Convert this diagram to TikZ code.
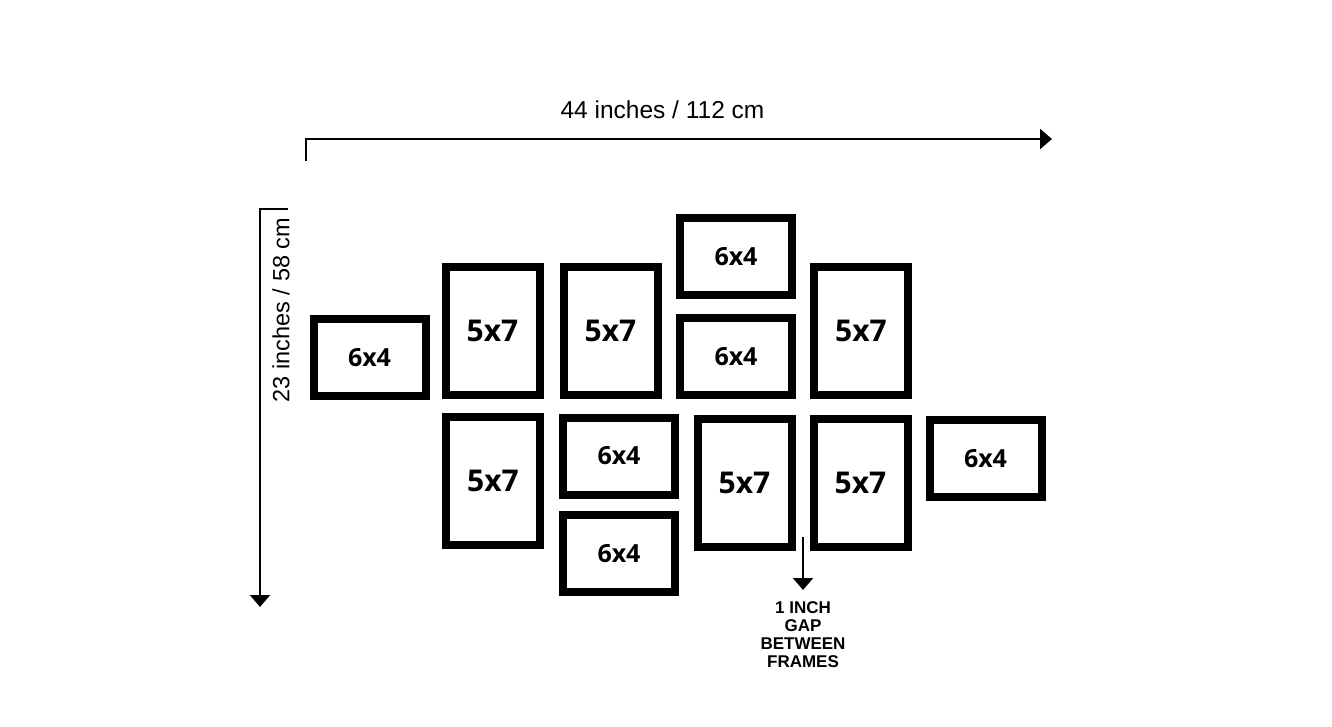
\documentclass[tikz,border=0pt]{standalone}
\usepackage{fontspec}
\setmainfont{Liberation Sans}
\newfontfamily\lblfont{Open Sans}
\usetikzlibrary{arrows.meta}
\begin{document}
\begin{tikzpicture}[x=1pt,y=-1pt,
  frame/.style={draw=black,line width=8pt,fill=white,inner sep=0pt,outer sep=0pt,font=\lblfont\bfseries},
  tall/.style={frame,minimum width=94pt,minimum height=128pt,font=\lblfont\bfseries\fontsize{30}{32}\selectfont},
  wide/.style={frame,minimum width=112pt,minimum height=77pt,font=\lblfont\bfseries\fontsize{25}{27}\selectfont},
  dim/.style={line width=2pt,-{Triangle[width=20pt,length=12pt]}},
  dimtext/.style={font=\fontsize{24.5}{27}\selectfont,inner sep=0pt}]
\useasboundingbox[fill=white] (0,0) rectangle (1332,726);
% frames
\node[wide] (a) at (369.5,357.5) {6x4};
\node[tall] (b) at (492.5,331) {5x7};
\node[tall] (c) at (610.5,331) {5x7};
\node[wide] (d) at (736,256.5) {6x4};
\node[wide] (e) at (736,356.5) {6x4};
\node[tall] (f) at (861,331) {5x7};
\node[tall] (g) at (493,481) {5x7};
\node[wide] (h) at (619,456) {6x4};
\node[wide] (i) at (619,553.5) {6x4};
\node[tall] (j) at (744.5,482.5) {5x7};
\node[tall] (k) at (860.5,483) {5x7};
\node[wide] (l) at (985.5,458.5) {6x4};
% top dimension
\coordinate (tlo) at (306,161);
\coordinate (tc) at (306,139);
\coordinate (tr) at (1052,139);
\draw[dim] (tlo) -- (tc) -- (tr);
\node[dimtext] (ttext) at (662.5,110) {44 inches / 112 cm};
% left dimension
\coordinate (lto) at (288,209);
\coordinate (lc) at (260,209);
\coordinate (lb) at (260,607);
\draw[dim] (lto) -- (lc) -- (lb);
\node[dimtext,font=\fontsize{23.5}{26}\selectfont,rotate=90] (ltext) at (281,310) {23 inches / 58 cm};
% gap note
\coordinate (gs) at (803,537);
\node[font=\bfseries\fontsize{17}{18.3}\selectfont,align=center,inner sep=0pt,anchor=north] (gtext) at (803,601) {1 INCH\\GAP\\BETWEEN\\FRAMES};
\coordinate (ge) at (803,590);
\draw[dim] (gs) -- (ge);
\end{tikzpicture}
\end{document}
